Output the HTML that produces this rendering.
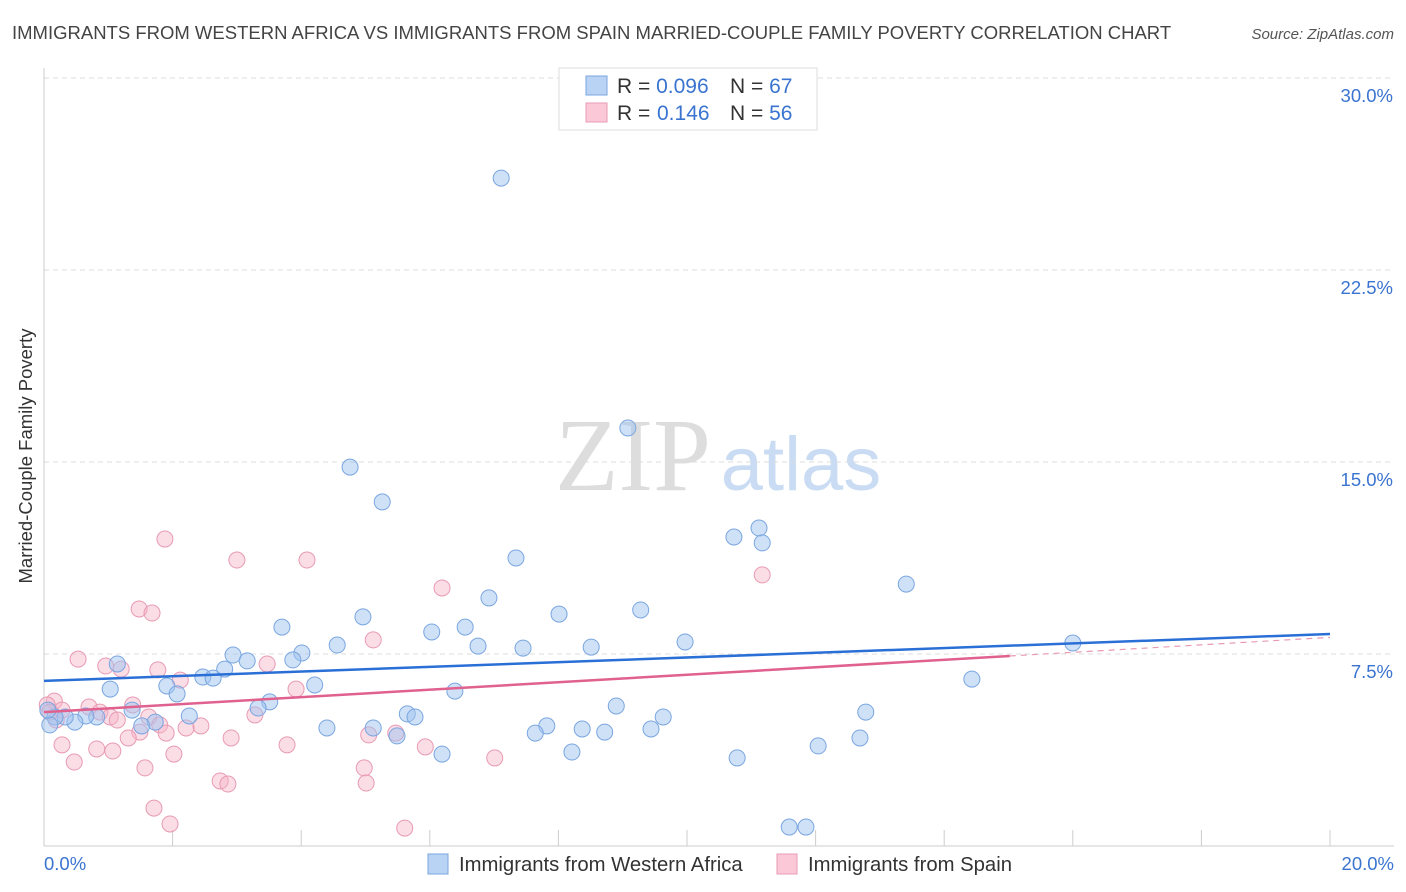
<!DOCTYPE html>
<html><head><meta charset="utf-8">
<style>
body{margin:0;background:#fff;font-family:"Liberation Sans",sans-serif;}
#wrap{position:relative;width:1406px;height:892px;overflow:hidden;}
</style></head>
<body>
<div id="wrap">
<svg id="svg" width="1406" height="892" xmlns="http://www.w3.org/2000/svg">
<text x="12" y="39" font-size="18.5" fill="#444">IMMIGRANTS FROM WESTERN AFRICA VS IMMIGRANTS FROM SPAIN MARRIED-COUPLE FAMILY POVERTY CORRELATION CHART</text>
<text x="1394" y="39" font-size="15" fill="#555" font-style="italic" text-anchor="end">Source: ZipAtlas.com</text>
<text x="32" y="456" font-size="18.5" fill="#333" text-anchor="middle" transform="rotate(-90 32 456)">Married-Couple Family Poverty</text>
<text x="633" y="490" font-size="104" fill="#ddd" text-anchor="middle" font-family="Liberation Serif,serif">ZIP</text>
<text x="801" y="490" font-size="76" fill="#c9dcf3" text-anchor="middle">atlas</text>
<g id="grid"></g>
<g id="pts"></g>
<g id="lines"></g>
<g>
<rect x="559" y="68" width="258" height="62" fill="#fff" stroke="#ddd"/>
<rect x="586" y="76" width="21" height="19" fill="#b9d3f5" stroke="#7aa6e0"/>
<rect x="586" y="103" width="21" height="19" fill="#fac8d7" stroke="#e89ab4"/>
<text x="617" y="93" font-size="21" fill="#333">R = <tspan fill="#3a74d0">0.096</tspan><tspan x="730">N = </tspan><tspan fill="#3a74d0">67</tspan></text>
<text x="617" y="120" font-size="21" fill="#333">R = <tspan x="657" fill="#3a74d0">0.146</tspan><tspan x="730">N = </tspan><tspan fill="#3a74d0">56</tspan></text>
</g>
<g>
<rect x="428" y="854" width="20" height="20" fill="#b9d3f5" stroke="#7aa6e0"/>
<text x="459" y="871" font-size="20.3" fill="#333">Immigrants from Western Africa</text>
<rect x="777" y="854" width="20" height="20" fill="#fac8d7" stroke="#e89ab4"/>
<text x="808" y="871" font-size="20.3" fill="#333">Immigrants from Spain</text>
</g>
</svg>
</div>
<script>
const yTicks=[7.5,15,22.5,30];
const yTickLabels=["7.5%","15.0%","22.5%","30.0%"];
const xTicks=[0,2,4,6,8,10,12,14,16,18,20];
const blueX=[7.11,9.08,4.76,5.26,7.34,10.73,11.12,11.17,13.41,6.92,4.96,8.01,9.28,3.70,6.03,6.55,9.97,16.0,4.56,6.75,7.45,8.51,4.01,3.87,2.94,3.16,2.81,2.47,2.63,1.14,1.91,2.07,1.03,4.21,6.39,14.43,3.51,3.33,8.90,12.78,5.65,5.77,2.26,9.63,1.73,1.37,1.52,0.82,0.65,0.48,0.33,0.17,0.09,0.06,4.40,5.12,7.82,8.37,8.72,9.44,7.64,5.49,12.69,12.04,8.21,6.19,10.78,11.59,11.85];
const blueY=[26.09,16.33,14.8,13.44,11.25,12.07,12.42,11.84,10.23,9.69,8.95,9.06,9.22,8.55,8.36,8.55,7.97,7.93,7.85,7.81,7.73,7.77,7.54,7.27,7.46,7.23,6.91,6.6,6.56,7.11,6.25,5.94,6.13,6.29,6.05,6.52,5.63,5.39,5.47,5.23,5.16,5.04,5.08,5.04,4.84,5.31,4.69,5.04,5.08,4.84,5.04,5.04,4.73,5.31,4.61,4.61,4.69,4.57,4.45,4.57,4.41,4.3,4.22,3.91,3.67,3.59,3.44,0.74,0.74];
const pinkX=[1.88,3.0,4.09,6.19,11.17,1.48,1.68,5.12,0.53,0.96,1.2,1.77,3.47,2.12,3.92,0.16,0.05,1.38,0.7,0.28,0.87,1.03,1.14,1.63,1.8,3.28,2.44,2.21,1.9,1.49,1.31,2.91,5.47,5.05,0.28,0.82,1.07,3.78,5.93,2.02,0.47,7.01,1.57,4.98,2.74,2.86,5.01,1.71,1.96,5.61,0.19,0.09];
const pinkY=[11.99,11.17,11.17,10.08,10.59,9.26,9.1,8.05,7.3,7.03,6.91,6.88,7.11,6.48,6.13,5.66,5.51,5.51,5.43,5.31,5.23,5.04,4.92,5.04,4.73,5.12,4.69,4.61,4.41,4.45,4.22,4.22,4.41,4.34,3.95,3.79,3.71,3.95,3.87,3.59,3.28,3.44,3.05,3.05,2.54,2.42,2.46,1.48,0.86,0.7,4.92,5.23];
const blueTrend=[6.45,8.28];
const pinkTrend=[5.23,8.15];
const pinkSolidEnd=15.02;
const NS="http://www.w3.org/2000/svg";
const xs=v=>44+v*64.3, ys=v=>846-v*25.6;
function mk(tag,attrs,parent){const e=document.createElementNS(NS,tag);for(const k in attrs)e.setAttribute(k,attrs[k]);parent.appendChild(e);return e;}
const grid=document.getElementById('grid');
yTicks.forEach((t,i)=>{
  const l=mk('line',{x1:44,x2:1394,y1:ys(t),y2:ys(t),stroke:'#ddd','stroke-dasharray':'5,4'},grid);
  
  
  const tx=mk('text',{x:1393,y:ys(t)+24,'font-size':18.5,fill:'#3a74d0','text-anchor':'end'},grid);
  tx.textContent=yTickLabels[i];
  
  
});
const ax=mk('line',{x1:44,x2:1394,y1:846,y2:846,stroke:'#ccc'},grid);


const ay=mk('line',{x1:44,x2:44,y1:68,y2:846,stroke:'#ccc'},grid);


xTicks.forEach(t=>{
  const l=mk('line',{x1:xs(t),x2:xs(t),y1:830,y2:846,stroke:'#ccc'},grid);
  
  
});
const x0=mk('text',{x:44,y:870,'font-size':18.5,fill:'#3a74d0'},grid);x0.textContent='0.0%';


const x1=mk('text',{x:1394,y:870,'font-size':18.5,fill:'#3a74d0','text-anchor':'end'},grid);x1.textContent='20.0%';


const pts=document.getElementById('pts');
pinkX.forEach((v,i)=>{
  const c=mk('circle',{cx:xs(v),cy:ys(pinkY[i]),r:8,fill:'rgba(246,180,200,0.45)',stroke:'#e89ab4','stroke-width':1},pts);
  
  
});
blueX.forEach((v,i)=>{
  const c=mk('circle',{cx:xs(v),cy:ys(blueY[i]),r:8,fill:'rgba(160,196,240,0.5)',stroke:'#7aa6e0','stroke-width':1},pts);
  
  
});
const lines=document.getElementById('lines');
const pAt=x=>pinkTrend[0]+(pinkTrend[1]-pinkTrend[0])*x/20;
const pl=mk('line',{x1:xs(0),y1:ys(pinkTrend[0]),x2:xs(pinkSolidEnd),y2:ys(pAt(pinkSolidEnd)),stroke:'#e0608e','stroke-width':2.5},lines);


const pd=mk('line',{x1:xs(pinkSolidEnd),y1:ys(pAt(pinkSolidEnd)),x2:xs(20),y2:ys(pinkTrend[1]),stroke:'#e89ab4','stroke-width':1.2,'stroke-dasharray':'6,5'},lines);


const bl=mk('line',{x1:xs(0),y1:ys(blueTrend[0]),x2:xs(20),y2:ys(blueTrend[1]),stroke:'#2a6fd6','stroke-width':2.5},lines);


</script>
</body></html>
